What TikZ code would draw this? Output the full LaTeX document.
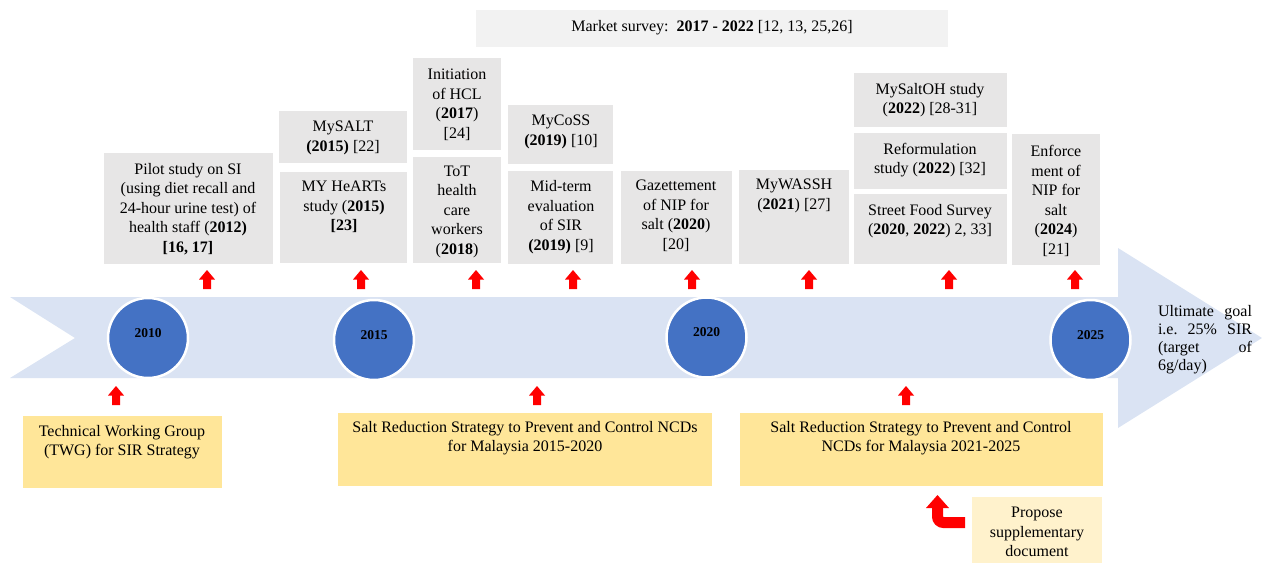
\documentclass[tikz,border=0pt]{standalone}
\usepackage{fontspec}
\setmainfont{Liberation Serif}
\definecolor{bodyblue}{HTML}{DAE3F3}
\definecolor{circblue}{HTML}{4472C4}
\definecolor{gboxc}{HTML}{E7E6E6}
\definecolor{mboxc}{HTML}{F2F2F2}
\definecolor{yboxc}{HTML}{FFE699}
\definecolor{lyboxc}{HTML}{FFF2CC}
\definecolor{arrred}{HTML}{FF0000}
\tikzset{
  boxbase/.style={rectangle, inner sep=0pt, anchor=north west, draw=none},
  gbox/.style={boxbase, fill=gboxc},
  mbox/.style={boxbase, fill=mboxc},
  ybox/.style={boxbase, fill=yboxc},
  lybox/.style={boxbase, fill=lyboxc},
  txt/.style={align=center, inner sep=0pt, font=\fontsize{16}{19.5}\selectfont},
  yearc/.style={circle, fill=circblue, draw=white, line width=2.5pt, minimum size=80pt, inner sep=0pt},
  yeartxt/.style={inner sep=0pt, font=\fontsize{13.5}{15}\selectfont\bfseries},
  uparr/.pic={\fill[arrred] (-4,0) -- (4,0) -- (4,-9.5) -- (8,-9.5) -- (0,-19) -- (-8,-9.5) -- (-4,-9.5) -- cycle;}
}
\begin{document}
\begin{tikzpicture}[x=1pt,y=-1pt]
\useasboundingbox (0,0) rectangle (1262,565);
% timeline body
\fill[bodyblue] (10,297) -- (1118,297) -- (1118,248) -- (1262,338) -- (1118,428) -- (1118,378) -- (10,378) -- (75,338) -- cycle;
% circles
\node[yearc] (c10) at (148,338) {};
\node[yearc] (c15) at (374,340) {};
\node[yearc] (c20) at (706.5,337.5) {};
\node[yearc] (c25) at (1090.5,340) {};
\node[yeartxt] at ([yshift=5pt]c10.center) {2010};
\node[yeartxt] at ([yshift=5pt]c15.center) {2015};
\node[yeartxt] at ([yshift=5pt]c20.center) {2020};
\node[yeartxt] at ([yshift=5pt]c25.center) {2025};
% market survey
\node[mbox, minimum width=472pt, minimum height=37pt] (market) at (476,10) {};
\node[txt] at (712,28) {Market survey:~~\textbf{2017 - 2022} [12, 13, 25,26]};
% grey boxes
\node[gbox, minimum width=169pt, minimum height=111pt] (pilot) at (104,153) {};
\node[txt] at (188,209) {Pilot study on SI\\(using diet recall and\\24-hour urine test) of\\health staff (\textbf{2012)}\\\textbf{[16, 17]}};
\node[gbox, minimum width=128pt, minimum height=52pt] (mysalt) at (279,111) {};
\node[txt] at (343,138) {MySALT\\\textbf{(2015)} [22]};
\node[gbox, minimum width=127pt, minimum height=91pt] (hearts) at (280,172) {};
\node[txt] at (344,207) {MY HeARTs\\study (\textbf{2015)}\\\textbf{[23]}};
\node[gbox, minimum width=88pt, minimum height=92pt] (hcl) at (413,58) {};
\node[txt] at (457,105) {Initiation\\of HCL\\(\textbf{2017})\\{}[24]};
\node[gbox, minimum width=88pt, minimum height=106pt] (tot) at (413,157) {};
\node[txt] at (457,211.5) {ToT\\health\\care\\workers\\(\textbf{2018})};
\node[gbox, minimum width=105pt, minimum height=59pt] (mycoss) at (508,105) {};
\node[txt] at (561,132) {MyCoSS\\\textbf{(2019)} [10]};
\node[gbox, minimum width=105pt, minimum height=93pt] (midterm) at (508,171) {};
\node[txt] at (561,217) {Mid-term\\evaluation\\of SIR\\\textbf{(2019)} [9]};
\node[gbox, minimum width=111pt, minimum height=93pt] (gazette) at (621,171) {};
\node[txt] at (676,216) {Gazettement\\of NIP for\\salt (\textbf{2020})\\{}[20]};
\node[gbox, minimum width=110pt, minimum height=94pt] (mywassh) at (739,170) {};
\node[txt] at (794,196) {MyWASSH\\(\textbf{2021}) [27]};
\node[gbox, minimum width=153pt, minimum height=54pt] (mysaltoh) at (854,73) {};
\node[txt] at (930,100) {MySaltOH study\\(\textbf{2022}) [28-31]};
\node[gbox, minimum width=153pt, minimum height=56pt] (reform) at (854,133) {};
\node[txt] at (930,160) {Reformulation\\study (\textbf{2022}) [32]};
\node[gbox, minimum width=153pt, minimum height=70pt] (street) at (854,194) {};
\node[txt] at (930,221) {Street Food Survey\\(\textbf{2020}, \textbf{2022}) 2, 33]};
\node[gbox, minimum width=88pt, minimum height=131pt] (enforce) at (1012,134) {};
\node[txt] at (1056,201) {Enforce\\ment of\\NIP for\\salt\\(\textbf{2024})\\{}[21]};
% lower boxes
\node[ybox, minimum width=199pt, minimum height=72pt] (twg) at (23,416) {};
\node[txt] at (122,442) {Technical Working Group\\(TWG) for SIR Strategy};
\node[ybox, minimum width=374pt, minimum height=73pt] (srs1) at (338,413) {};
\node[txt] at (525,438) {Salt Reduction Strategy to Prevent and Control NCDs\\for Malaysia 2015-2020};
\node[ybox, minimum width=363pt, minimum height=73pt] (srs2) at (740,413) {};
\node[txt] at (921,438) {Salt Reduction Strategy to Prevent and Control\\NCDs for Malaysia 2021-2025};
\node[lybox, minimum width=130pt, minimum height=66pt] (propose) at (972,497) {};
\node[txt] at (1037,532) {Propose\\supplementary\\document};
% ultimate goal
\node[inner sep=0pt, text width=94pt, align=left, font=\fontsize{16}{18}\selectfont] (goal) at (1205,340)
  {Ultimate\hfill goal\\ i.e.\hfill 25\%\hfill SIR\\ (target\hfill of\\ 6g/day)};
% up arrows
\foreach \xx in {207,361,476,573,692,809,949,1075} {\pic at (\xx,289) {uparr};}
\foreach \xx in {116,537,906} {\pic at (\xx,405) {uparr};}
% bent arrow
\draw[arrred, line width=11pt, rounded corners=6pt] (965,522.5) -| (937.5,506);
\fill[arrred] (926,508) -- (937.5,495) -- (949,508) -- cycle;
\end{tikzpicture}
\end{document}
